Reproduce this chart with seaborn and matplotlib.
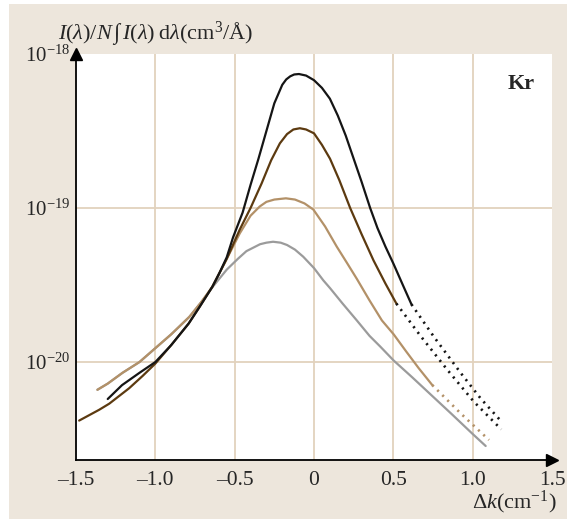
import numpy as np
import matplotlib
matplotlib.use("Agg")
import matplotlib.pyplot as plt
from matplotlib.patches import Rectangle
import seaborn as sns

# ---- data (log10 of intensity) ----
black_x = [-1.30, -1.21, -1.10, -1.0, -0.90, -0.79, -0.72, -0.64, -0.595, -0.55, -0.51, -0.45, -0.40, -0.35, -0.30, -0.25, -0.20, -0.175, -0.15, -0.125, -0.095, -0.05, 0.0, 0.05, 0.10, 0.15, 0.20, 0.26, 0.30, 0.354, 0.40, 0.45, 0.50, 0.56, 0.614]
black_l = [-20.24, -20.15, -20.07, -20.0, -19.89, -19.75, -19.64, -19.51, -19.42, -19.32, -19.19, -19.03, -18.85, -18.68, -18.50, -18.32, -18.20, -18.165, -18.145, -18.133, -18.13, -18.14, -18.17, -18.22, -18.29, -18.40, -18.53, -18.71, -18.83, -19.0, -19.13, -19.25, -19.36, -19.50, -19.625]
black_dx = [0.614, 0.755, 0.924, 1.05, 1.188]
black_dl = [-19.625, -19.835, -20.07, -20.236, -20.394]

brown_x = [-1.48, -1.354, -1.29, -1.165, -1.08, -1.0, -0.90, -0.79, -0.72, -0.64, -0.55, -0.468, -0.40, -0.33, -0.27, -0.215, -0.17, -0.13, -0.089, -0.05, 0.0, 0.05, 0.101, 0.16, 0.228, 0.30, 0.375, 0.45, 0.519]
brown_l = [-20.38, -20.31, -20.27, -20.17, -20.09, -20.01, -19.89, -19.75, -19.64, -19.51, -19.33, -19.14, -19.0, -18.84, -18.69, -18.58, -18.52, -18.49, -18.482, -18.49, -18.515, -18.59, -18.68, -18.82, -19.0, -19.17, -19.34, -19.49, -19.62]
brown_dx = [0.519, 0.671, 0.84, 1.008, 1.18]
brown_dl = [-19.62, -19.83, -20.05, -20.258, -20.437]

tan_x = [-1.365, -1.30, -1.207, -1.10, -1.0, -0.90, -0.785, -0.71, -0.64, -0.55, -0.468, -0.40, -0.342, -0.30, -0.25, -0.177, -0.12, -0.06, -0.004, 0.07, 0.143, 0.21, 0.27, 0.35, 0.428, 0.502, 0.58, 0.66, 0.745]
tan_l = [-20.18, -20.14, -20.07, -20.0, -19.91, -19.82, -19.706, -19.61, -19.51, -19.33, -19.165, -19.05, -18.99, -18.96, -18.945, -18.937, -18.945, -18.97, -19.01, -19.12, -19.25, -19.36, -19.46, -19.60, -19.73, -19.82, -19.93, -20.04, -20.149]
tan_dx = [0.745, 0.924, 1.103]
tan_dl = [-20.149, -20.333, -20.506]

gray_x = [-1.365, -1.30, -1.207, -1.10, -1.0, -0.90, -0.785, -0.71, -0.637, -0.55, -0.48, -0.426, -0.34, -0.30, -0.258, -0.21, -0.17, -0.12, -0.068, 0.0, 0.059, 0.101, 0.18, 0.27, 0.35, 0.418, 0.502, 0.62, 0.745, 0.87, 1.0, 1.082]
gray_l = [-20.18, -20.14, -20.07, -20.0, -19.91, -19.82, -19.706, -19.61, -19.51, -19.40, -19.33, -19.28, -19.235, -19.225, -19.219, -19.225, -19.24, -19.27, -19.316, -19.39, -19.47, -19.52, -19.62, -19.73, -19.83, -19.90, -19.99, -20.10, -20.22, -20.34, -20.467, -20.545]

xticks = [-1.5, -1.0, -0.5, 0, 0.5, 1.0, 1.5]
xticklabels = ["\u20131.5", "\u20131.0", "\u20130.5", "0", "0.5", "1.0", "1.5"]
yticks = [1e-20, 1e-19, 1e-18]
yticklabels = [r"$10^{-20}$", r"$10^{-19}$", r"$10^{-18}$"]

BLACK = "#151515"
BROWN = "#5c3a10"
TAN = "#b39168"
GRAY = "#9b9b9b"
BEIGE = "#ede6dc"
GRID = "#e2d2bd"

sns.set_style("white")
plt.rcParams["font.family"] = ["Liberation Serif", "DejaVu Serif"]
plt.rcParams["mathtext.fontset"] = "custom"
plt.rcParams["mathtext.rm"] = "Liberation Serif"
plt.rcParams["mathtext.it"] = "Liberation Serif:italic"
plt.rcParams["mathtext.bf"] = "Liberation Serif:bold"

fig = plt.figure(figsize=(5.67, 5.19), dpi=100, facecolor="white")
bg = Rectangle((9 / 567, 0), 1 - 9 / 567, 1 - 4 / 519,
               transform=fig.transFigure, facecolor=BEIGE,
               edgecolor="none", zorder=-10)
fig.patches.append(bg)
ax = fig.add_axes([76 / 567, 59 / 519, (552 - 76) / 567, (460 - 54) / 519])
ax.set_zorder(1)
ax.set_facecolor("white")

lw = 1.6
def solid(x, l, c):
    sns.lineplot(x=np.array(x), y=10.0 ** np.array(l), color=c, lw=lw,
                 estimator=None, sort=False, ax=ax, zorder=3)
def dotted(x, l, c):
    sns.lineplot(x=np.array(x), y=10.0 ** np.array(l), color=c, lw=1.9,
                 estimator=None, sort=False, ax=ax, zorder=3,
                 linestyle=(0, (0.8, 1.9)))

solid(gray_x, gray_l, GRAY)
solid(tan_x, tan_l, TAN)
dotted(tan_dx, tan_dl, TAN)
solid(brown_x, brown_l, BROWN)
dotted(brown_dx, brown_dl, BLACK)
solid(black_x, black_l, BLACK)
dotted(black_dx, black_dl, BLACK)

ax.set_yscale("log")
ax.set_xlim(-1.5, 1.5)
ax.set_ylim(10 ** -20.636, 1e-18)
ax.set_xticks(xticks)
ax.set_xticklabels(xticklabels, fontsize=15.5)
ax.set_yticks(yticks)
ax.set_yticklabels(yticklabels, fontsize=15)
ax.yaxis.set_minor_locator(matplotlib.ticker.NullLocator())
ax.tick_params(axis="x", length=0, pad=8)
ax.tick_params(axis="y", length=0, pad=4)

for xv in [-1.0, -0.5, 0, 0.5, 1.0]:
    ax.axvline(xv, color=GRID, lw=1.3, zorder=1)
for yv in [1e-20, 1e-19]:
    ax.axhline(yv, color=GRID, lw=1.3, zorder=1)

for s in ["top", "right"]:
    ax.spines[s].set_visible(False)
for s in ["left", "bottom"]:
    ax.spines[s].set_color("black")
    ax.spines[s].set_linewidth(1.3)
ax.plot(0, 1, marker="^", color="black", ms=8, transform=ax.transAxes, clip_on=False, zorder=5)
ax.plot(1, 0, marker=">", color="black", ms=8, transform=ax.transAxes, clip_on=False, zorder=5)

ax.set_xlabel("")
ax.set_ylabel("")
fig.text(58 / 567, 1 - 33 / 519,
         r"$I(\lambda)/N\,\int\, I(\lambda)\;\mathrm{d}\lambda(\mathrm{cm}^3/\mathrm{\AA})$",
         fontsize=16, ha="left", va="center")
fig.text(557 / 567, 1 - 502 / 519, r"$\Delta k(\mathrm{cm}^{-1})$",
         fontsize=16, ha="right", va="center")
ax.text(0.935, 0.925, "Kr", transform=ax.transAxes, fontsize=16,
        fontweight="bold", ha="center", va="center")

fig.savefig("out.png", dpi=100, facecolor=fig.get_facecolor())
